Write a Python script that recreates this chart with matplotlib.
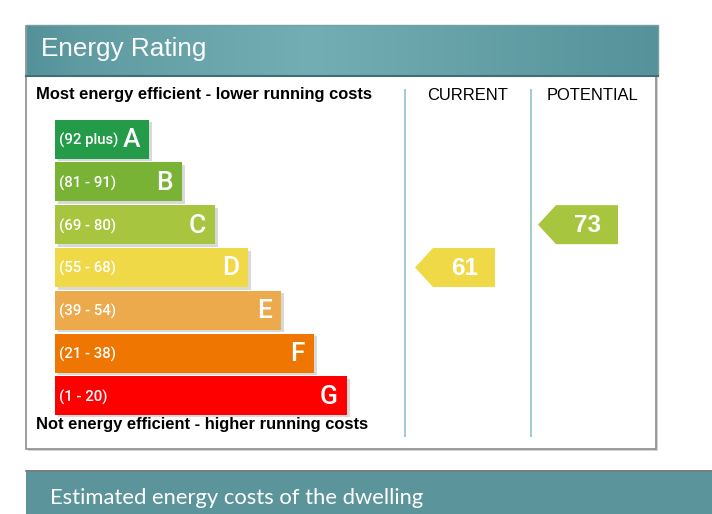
import matplotlib
matplotlib.use("Agg")
import matplotlib.pyplot as plt
import numpy as np
from matplotlib.patches import Rectangle, Polygon
from matplotlib.colors import LinearSegmentedColormap

# band data (A = most efficient)
bands = ["A", "B", "C", "D", "E", "F", "G"]
ranges = ["(92 plus)", "(81 - 91)", "(69 - 80)", "(55 - 68)", "(39 - 54)", "(21 - 38)", "(1 - 20)"]
band_min = [92, 81, 69, 55, 39, 21, 1]
band_colors = ["#239b48", "#79b336", "#a7c53f", "#f0d947", "#ecaa4c", "#ef7600", "#fe0000"]
bar_lengths = [94, 127, 160, 193, 226, 259, 292]

current_rating = 61
potential_rating = 73

W, H = 712, 514
fig = plt.figure(figsize=(W / 100, H / 100), dpi=100)
base = fig.add_axes([0, 0, 1, 1])
base.set_xlim(0, W)
base.set_ylim(H, 0)
base.axis("off")

# rating panel frame
base.add_patch(Rectangle((28, 28), 630, 423, facecolor="#d4d4d4", edgecolor="none", zorder=0))
base.add_patch(Rectangle((25.5, 25.5), 630, 423, facecolor="white", edgecolor="#8c8c8c", lw=1.2, zorder=1))

# header with gradient
grad = np.interp(np.linspace(0, 1, 300), [0, 0.08, 0.45, 0.75, 1], [0.15, 0.45, 1.0, 0.55, 0.2])
cmap = LinearSegmentedColormap.from_list("hdr", ["#4e8b92", "#74aeb5"])
base.imshow(grad[None, :], cmap=cmap, vmin=0, vmax=1, aspect="auto",
            extent=(26, 658, 75, 25), zorder=2)
base.add_patch(Rectangle((26, 25), 632, 50, fill=False, edgecolor="#7a9ea2", lw=1, zorder=3))
base.plot([26, 658], [75.5, 75.5], color="#3f6f74", lw=1.5, zorder=3)
base.text(41, 56, "Energy Rating", color="white", fontsize=18.8, family="Liberation Sans",
          va="baseline", ha="left", zorder=4)

# captions
cap = dict(fontsize=11.9, family="Liberation Sans", va="center", zorder=4)
base.text(36, 95, "Most energy efficient - lower running costs", weight="bold", **cap)
base.text(36, 425, "Not energy efficient - higher running costs", weight="bold", **cap)
base.text(468, 95, "CURRENT", ha="center", **cap)
base.text(592, 95, "POTENTIAL", ha="center", **cap)

# column dividers
for xl in (405, 531):
    base.plot([xl, xl], [90, 436], color="#a6cbd3", lw=1.5, zorder=4)

# second panel header
base.add_patch(Rectangle((26, 470), W - 26, 50, facecolor="#5b949a", edgecolor="none", zorder=2))
base.plot([26, W], [470.5, 470.5], color="#7d7d7d", lw=1.2, zorder=3)
base.text(50, 504, "Estimated energy costs of the dwelling", color="white", fontsize=15.8,
          family="Lato", va="baseline", ha="left", zorder=4)

# bars axes: band index on y, pixel length on x
top_px, bot_px = 117.6, 417.4
left_px, right_px = 55, 655
ax = fig.add_axes([left_px / W, 1 - bot_px / H, (right_px - left_px) / W, (bot_px - top_px) / H])
ax.set_xlim(0, right_px - left_px)
ax.set_ylim(len(bands) - 0.5, -0.5)
ax.axis("off")
ax.patch.set_alpha(0)

y = np.arange(len(bands))
unit = (bot_px - top_px) / len(bands)
bh = 39 / unit
ax.barh(y + 2.5 / unit, bar_lengths, height=bh, left=3, color="#d9d9d9", zorder=1)
ax.barh(y, bar_lengths, height=bh, color=band_colors, zorder=2)
for i in range(len(bands)):
    ax.text(4, y[i] + 0.03, ranges[i], color="white", fontsize=10.8, family="Roboto",
            weight="medium", va="center", ha="left", zorder=3)
    ax.text(bar_lengths[i] - 9, y[i] + 0.02, bands[i], color="white", fontsize=19,
            family="Roboto", weight="medium", va="center", ha="right", zorder=3)


def band_of(score):
    for i, lo in enumerate(band_min):
        if score >= lo:
            return i
    return len(band_min) - 1


def rating_arrow(score, x0, x1):
    i = band_of(score)
    half = bh / 2
    tip = 18
    pts = [(x0, y[i]), (x0 + tip, y[i] - half), (x1, y[i] - half), (x1, y[i] + half), (x0 + tip, y[i] + half)]
    ax.add_patch(Polygon(pts, closed=True, facecolor=band_colors[i], edgecolor="none", zorder=2))
    ax.text((x0 + tip + x1) / 2 + 1, y[i] + 0.02, str(score), color="white", fontsize=17.5,
            family="Liberation Sans", weight="bold", va="center", ha="center", zorder=3)


rating_arrow(current_rating, 415 - left_px, 495 - left_px)
rating_arrow(potential_rating, 538 - left_px, 618 - left_px)

fig.savefig("out.png", dpi=100)
